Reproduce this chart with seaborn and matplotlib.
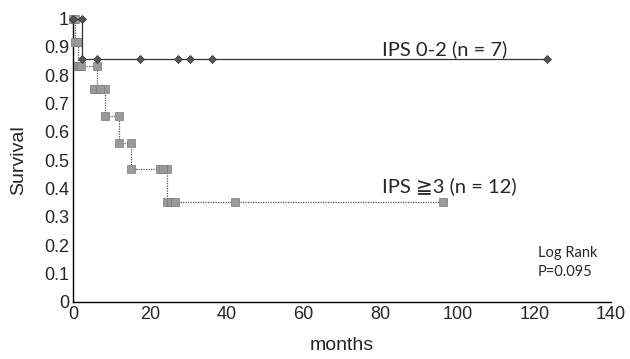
import matplotlib
matplotlib.use("Agg")
import matplotlib.pyplot as plt
import seaborn as sns
import pandas as pd
from matplotlib.ticker import FuncFormatter

# Kaplan-Meier curve corner points (months, survival)
low_months = [0, 2.2, 2.2, 6.2, 17.4, 27.4, 30.4, 36.1, 123.4]
low_surv = [1.0, 1.0, 0.857, 0.857, 0.857, 0.857, 0.857, 0.857, 0.857]

high_months = [0, 0.5, 0.5, 1.3, 1.3, 6.2, 6.2, 8.3, 8.3, 12.0, 12.0, 15.0, 15.0,
               24.5, 24.5, 42.2, 96.3]
high_surv = [1.0, 1.0, 0.917, 0.917, 0.833, 0.833, 0.75, 0.75, 0.656, 0.656,
             0.5625, 0.5625, 0.469, 0.469, 0.352, 0.352, 0.352]
# extra overlapping marker points (censor marks)
high_marks_x = [1.5, 2.0, 5.5, 7.0, 22.5, 23.5, 25.5, 26.5]
high_marks_y = [0.833, 0.833, 0.75, 0.75, 0.469, 0.469, 0.352, 0.352]

xticks = [0, 20, 40, 60, 80, 100, 120, 140]
yticks = [0, 0.1, 0.2, 0.3, 0.4, 0.5, 0.6, 0.7, 0.8, 0.9, 1]

sns.set_style("white")
plt.rcParams['font.family'] = ['Liberation Sans', 'DejaVu Sans']

fig = plt.figure(figsize=(6.30, 3.59), dpi=100)
ax = fig.add_axes([0.116, 0.159, 0.854, 0.789])

df_low = pd.DataFrame({"m": low_months, "s": low_surv})
df_high = pd.DataFrame({"m": high_months, "s": high_surv})
df_marks = pd.DataFrame({"m": high_marks_x, "s": high_marks_y})

sns.lineplot(data=df_high, x="m", y="s", sort=False, estimator=None, ax=ax,
             color="#555555", lw=0.9, linestyle=(0, (1, 1)),
             marker="s", markersize=5.2, markerfacecolor="#9a9a9a",
             markeredgecolor="#7a7a7a", markeredgewidth=0.5, clip_on=False, zorder=3)
sns.scatterplot(data=df_marks, x="m", y="s", ax=ax, marker="s", s=27,
                color="#9a9a9a", edgecolor="#7a7a7a", linewidth=0.5,
                clip_on=False, zorder=3)
sns.lineplot(data=df_low, x="m", y="s", sort=False, estimator=None, ax=ax,
             color="#333333", lw=0.9,
             marker="D", markersize=4.0, markerfacecolor="#555555",
             markeredgecolor="#333333", markeredgewidth=0.5, clip_on=False, zorder=4)

ax.set_xlim(0, 140)
ax.set_ylim(0, 1)
ax.set_xticks(xticks)
ax.set_yticks(yticks)
ax.yaxis.set_major_formatter(FuncFormatter(lambda v, p: f"{v:g}"))
ax.tick_params(direction="in", length=4, width=0.8, labelsize=13, color="black",
               pad=3)
for s in ["top", "right"]:
    ax.spines[s].set_visible(False)
for s in ["left", "bottom"]:
    ax.spines[s].set_color("black")
    ax.spines[s].set_linewidth(1.0)

ax.set_xlabel("months", fontsize=14, labelpad=10)
ax.set_ylabel("Survival", fontsize=14, labelpad=12)

ax.text(80.5, 0.893, "IPS 0-2 (n = 7)", fontsize=14.5, family=['Lato', 'DejaVu Sans'],
        ha="left", va="center")
ax.text(80.5, 0.408, "IPS \u22673 (n = 12)", fontsize=14.5, family=['Lato', 'DejaVu Sans'],
        ha="left", va="center")
ax.text(121, 0.14, "Log Rank\nP=0.095", fontsize=10.5, family=['Lato', 'DejaVu Sans'],
        ha="left", va="center", linespacing=1.45)

fig.savefig("out.png", dpi=100)
